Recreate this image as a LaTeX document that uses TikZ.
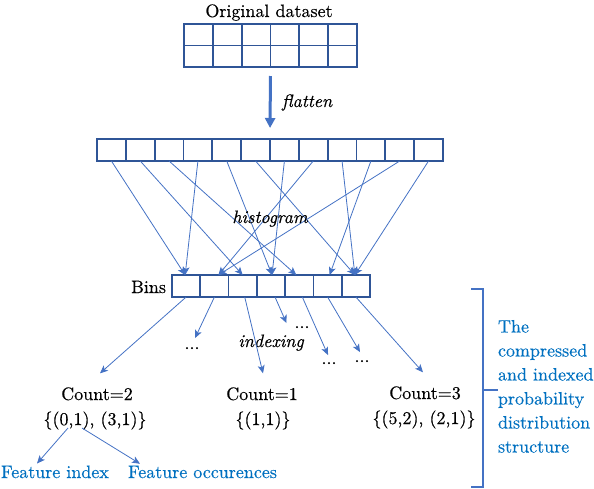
\documentclass[tikz,border=0pt]{standalone}
\usepackage{fontspec}
\setmainfont{lmroman10-regular.otf}[ItalicFont=lmroman10-italic.otf, BoldFont=lmroman10-bold.otf, FakeBold=0.4]
\usetikzlibrary{arrows.meta}
\definecolor{cellc}{HTML}{2F5597}
\definecolor{arrc}{HTML}{4472C4}
\definecolor{txtb}{HTML}{0070C0}
\begin{document}
\begin{tikzpicture}[x=1pt,y=-1pt,
  every node/.style={font=\rmfamily\fontsize{18}{24}\selectfont, inner sep=0pt, outer sep=0pt},
  cell/.style={draw=cellc, line width=1.8pt, minimum width=28.83pt, minimum height=22pt},
  bincell/.style={cell, minimum width=28.29pt},
  arr/.style={draw=arrc, line width=0.8pt, -{Stealth[length=8pt,width=7pt,inset=2pt]}},
  bigarr/.style={draw=arrc, line width=3pt, -{Triangle[length=10pt,width=10pt]}},
  itlabel/.style={font=\rmfamily\fontsize{18}{24}\selectfont\itshape},
  bluelabel/.style={text=txtb},
  brace/.style={draw=arrc, line width=1.2pt}
]
\useasboundingbox (0,0) rectangle (594,488);

% original dataset grid
\node[anchor=base] (orig) at (269,17) {Original dataset};
\foreach \r in {1,2}
  \foreach \c in {1,...,6}
    \node[cell, minimum height=21.5pt] (g\r\c) at ({184+28.83*(\c-0.5)},{24+21.5*(\r-0.5)}) {};

% flattened row
\foreach \i in {1,...,12}
  \node[cell] (f\i) at ({97+28.83*(\i-0.5)},150) {};

% bins
\foreach \i in {1,...,7}
  \node[bincell] (b\i) at ({172+28.29*(\i-0.5)},286) {};

% flatten arrow
\draw[bigarr, shorten <=9pt, shorten >=11pt] (g23.south east) -- (f7.north west);
\node[itlabel, anchor=base west] (flat) at (282,107) {flatten};

% histogram connections
\draw[arr] (f1.south) -- ([xshift=-1pt]b1.north);
\draw[arr] (f2.south) -- (b3.north);
\draw[arr] (f3.south) -- ([xshift=-3pt]b5.north);
\draw[arr] (f4.south) -- ([xshift=-1pt]b1.north);
\draw[arr] (f5.south) -- ([xshift=1pt]b4.north);
\draw[arr] (f6.south) -- ([xshift=-1pt]b7.north);
\draw[arr] (f7.south) -- ([xshift=1pt]b4.north);
\draw[arr] (f8.south) -- ([xshift=4pt]b2.north);
\draw[arr] (f9.south) -- ([xshift=-1pt]b7.north);
\draw[arr] (f10.south) -- ([xshift=2pt]b6.north);
\draw[arr] (f11.south) -- ([xshift=4pt]b2.north);
\draw[arr] (f12.south) -- ([xshift=-1pt]b7.north);
\node[itlabel, anchor=base] (hist) at (270,223) {histogram};
\node[anchor=base east] (bins) at (166,293) {Bins};

% indexing
\node[itlabel, anchor=base] (idx) at (271,347) {indexing};
\node[anchor=base] (c2) at (97,400) {Count=2};
\node[anchor=base] (s2) at (95,425) {\{(0,1), (3,1)\}};
\node[anchor=base] (c1) at (262,400) {Count=1};
\node[anchor=base] (s1) at (263,425) {\{(1,1)\}};
\node[anchor=base] (c3) at (425,399) {Count=3};
\node[anchor=base] (s3) at (424,424) {\{(5,2), (2,1)\}};
\node[anchor=base] (d1) at (192,349) {...};
\node[anchor=base] (d2) at (302,328) {...};
\node[anchor=base] (d3) at (329,364) {...};
\node[anchor=base] (d4) at (362,362) {...};

\draw[arr] (b1.south) -- ([shift={(3,-14)}]c2.north);
\draw[arr] (b2.south) -- ([shift={(3,-9)}]d1.north);
\draw[arr] ([xshift=2pt]b3.south) -- ([shift={(1,-14)}]c1.north);
\draw[arr] ([xshift=4pt]b4.south) -- ([shift={(-8,-3)}]d2.north west);
\draw[arr] ([xshift=3pt]b5.south) -- ([shift={(-1,-7)}]d3.north);
\draw[arr] (b6.south) -- ([shift={(-2,-8)}]d4.north);
\draw[arr] (b7.south) -- ([shift={(-2,-14)}]c3.north);

% feature labels
\node[bluelabel, anchor=base west] (fi) at (1,478) {Feature index};
\node[bluelabel, anchor=base west] (fo) at (128,478) {Feature occurences};
\draw[arr] ([shift={(-27,3)}]s2.base) -- ([shift={(36,-2)}]fi.north west);
\draw[arr] ([shift={(-13,3)}]s2.base) -- ([shift={(12,-2)}]fo.north west);

% bracket and description
\draw[brace] (471,289) -- (483,289) -- (483,487) -- (471,487);
\node[bluelabel, anchor=north west, align=left] (desc) at (498,320)
  {The\\compressed\\and indexed\\probability\\distribution\\structure};
\draw[brace] (483,390) -- (desc.west |- 0,390);
\end{tikzpicture}
\end{document}
